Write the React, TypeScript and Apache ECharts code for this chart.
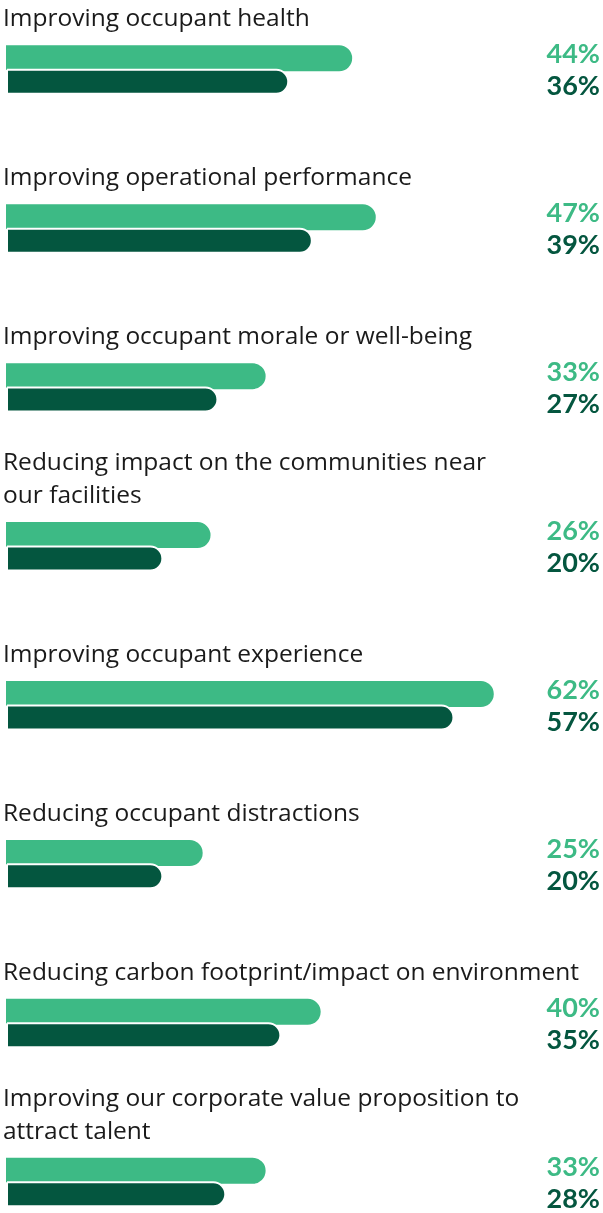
import React, { useEffect, useRef } from "react";
import * as echarts from "echarts";

const categories = [
  "Improving occupant health",
  "Improving operational performance",
  "Improving occupant morale or well-being",
  "Reducing impact on the communities near\nour facilities",
  "Improving occupant experience",
  "Reducing occupant distractions",
  "Reducing carbon footprint/impact on environment",
  "Improving our corporate value proposition to\nattract talent",
];
const lightValues = [44, 47, 33, 26, 62, 25, 40, 33];
const darkValues = [36, 39, 27, 20, 57, 20, 35, 28];

const LIGHT = "#3dba85";
const DARK = "#04563f";

export default function App() {
  const ref = useRef<HTMLDivElement>(null);
  useEffect(() => {
    if (!ref.current) return;
    const chart = echarts.init(ref.current, null, { renderer: "svg" });
    chart.setOption({
      animation: false,
      grid: { left: 4, right: 2, top: 69.5, height: 1113, containLabel: false },
      xAxis: {
        type: "value",
        min: 0,
        max: 75.5,
        show: false,
      },
      yAxis: [
        {
          type: "category",
          data: categories,
          inverse: true,
          boundaryGap: false,
          position: "left",
          offset: 3,
          axisLine: { show: false },
          axisTick: { show: false },
          splitLine: { show: false },
          axisLabel: {
            inside: true,
            margin: 0,
            align: "left",
            verticalAlign: "bottom",
            fontFamily: "Open Sans",
            fontSize: 24.5,
            lineHeight: 33,
            color: "#1a1a1a",
            padding: [0, 0, 37, 0],
          },
        },
        {
          type: "category",
          data: categories,
          inverse: true,
          boundaryGap: false,
          position: "right",
          axisLine: { show: false },
          axisTick: { show: false },
          splitLine: { show: false },
          axisLabel: {
            inside: true,
            margin: 0,
            align: "right",
            verticalAlign: "middle",
            padding: [0, 0, 3, 0],
            formatter: (_v: string, i: number) =>
              `{a|${lightValues[i]}%}\n{b|${darkValues[i]}%}`,
            rich: {
              a: {
                color: LIGHT,
                fontFamily: "Lato",
                fontWeight: "bold",
                fontSize: 27,
                lineHeight: 32,
                align: "right",
              },
              b: {
                color: DARK,
                fontFamily: "Lato",
                fontWeight: "bold",
                fontSize: 27,
                lineHeight: 32,
                align: "right",
              },
            },
          },
        },
      ],
      series: [
        {
          type: "bar",
          data: lightValues,
          barWidth: 26,
          barGap: "-10%",
          itemStyle: { color: LIGHT, borderRadius: [0, 13, 13, 0] },
        },
        {
          type: "bar",
          data: darkValues,
          barWidth: 26,
          itemStyle: {
            color: DARK,
            borderRadius: [0, 13, 13, 0],
            borderColor: "#ffffff",
            borderWidth: 2,
          },
        },
      ],
    });
    return () => chart.dispose();
  }, []);
  return (
    <div
      ref={ref}
      style={{ position: "fixed", left: 0, top: 0, width: 603, height: 1213 }}
    />
  );
}
